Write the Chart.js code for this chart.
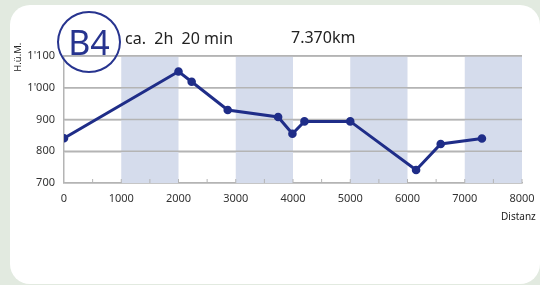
<!DOCTYPE html>
<html>
<head>
<meta charset="utf-8">
<script src="https://cdn.jsdelivr.net/npm/chart.js@4"></script>
<style>
  body { margin: 0; width: 540px; height: 285px; overflow: hidden; background: #e2eae0; font-family: "Noto Sans", sans-serif; }
  .card { position: absolute; left: 10px; top: 5px; width: 530px; height: 279px; background: #fff; border-radius: 20px; }
  #chart { position: absolute; left: 0; top: 0; }
  .lbl { position: absolute; white-space: pre; color: #222; line-height: 1; }
  .badge { position: absolute; left: 57px; top: 11px; width: 64px; height: 62px; box-sizing: border-box;
           border: 2px solid #27348f; border-radius: 50%; color: #27348f; font-size: 34px; line-height: 58px; text-align: center; }
</style>
</head>
<body>
<div class="card"></div>
<canvas id="chart" width="540" height="285"></canvas>
<div class="badge">B4</div>
<div class="lbl" style="left:125px; top:30px; font-size:16px;">ca.  2h  20 min</div>
<div class="lbl" style="left:291px; top:29px; font-size:16px;">7.370km</div>
<div class="lbl" style="left:4px; top:53px; font-size:9.5px; width:28px; text-align:center; transform: rotate(-90deg);">H.ü.M.</div>
<div class="lbl" style="left:501px; top:211px; font-size:10px;">Distanz</div>
<script>
// Höhenprofil B4
const distanz = [0, 2000, 2230, 2860, 3740, 3990, 4200, 5000, 6150, 6580, 7300];
const hoehe   = [841, 1051, 1019, 930, 908, 855, 894, 894, 741, 823, 840];
const baender = [[1000, 2000], [3000, 4000], [5000, 6000], [7000, 8000]];
const xTicks = [0, 1000, 2000, 3000, 4000, 5000, 6000, 7000, 8000];
const xTickLabels = ['0', '1000', '2000', '3000', '4000', '5000', '6000', '7000', '8000'];
const yTicks = [700, 800, 900, 1000, 1100];
const yTickLabels = ['700', '800', '900', "1'000", "1'100"];

const navy = '#1f2d88';
const grau = '#b4b4b4';

// blaue Streifen und kleine Striche an der x-Achse
const hintergrund = {
  id: 'hintergrund',
  beforeDatasetsDraw(chart) {
    const { ctx, chartArea, scales } = chart;
    ctx.save();
    ctx.fillStyle = '#d5dcec';
    baender.forEach(b => {
      const x1 = scales.x.getPixelForValue(b[0]);
      const x2 = scales.x.getPixelForValue(b[1]);
      ctx.fillRect(x1, chartArea.top, x2 - x1, chartArea.bottom - chartArea.top);
    });
    // Gitterlinien nochmal drüber
    ctx.strokeStyle = grau;
    ctx.lineWidth = 1.5;
    yTicks.slice(1).forEach(v => {
      const y = scales.y.getPixelForValue(v);
      ctx.beginPath();
      ctx.moveTo(chartArea.left, y);
      ctx.lineTo(chartArea.right, y);
      ctx.stroke();
    });
    ctx.lineWidth = 1;
    for (let v = 500; v <= 8000; v += 500) {
      const x = scales.x.getPixelForValue(v);
      ctx.beginPath();
      ctx.moveTo(x, chartArea.bottom);
      ctx.lineTo(x, chartArea.bottom - 4);
      ctx.stroke();
    }
    ctx.restore();
  }
};

new Chart(document.getElementById('chart'), {
  type: 'line',
  data: {
    datasets: [{
      data: distanz.map((d, i) => ({ x: d, y: hoehe[i] })),
      borderColor: navy,
      backgroundColor: navy,
      borderWidth: 3,
      pointRadius: 2.8,
      pointBackgroundColor: navy,
      tension: 0
    }]
  },
  options: {
    responsive: false,
    animation: false,
    layout: { autoPadding: false, padding: { top: 56, right: 18, bottom: 0, left: 0 } },
    plugins: { legend: { display: false }, tooltip: { enabled: false } },
    scales: {
      x: {
        type: 'linear',
        min: 0, max: 8000,
        afterFit(s) { s.height = 102; s.paddingLeft = 0; s.paddingRight = 0; },
        grid: { display: false, drawTicks: false },
        border: { display: true, color: grau, width: 1.5 },
        ticks: {
          stepSize: 1000, padding: 9, color: '#333', font: { family: 'Noto Sans', size: 11 },
          callback: v => xTickLabels[xTicks.indexOf(v)]
        }
      },
      y: {
        min: 700, max: 1100,
        afterFit(s) { s.width = 64; s.paddingTop = 0; s.paddingBottom = 0; },
        grid: { color: grau, lineWidth: 1.5, drawTicks: false },
        border: { display: true, color: grau, width: 1.5 },
        ticks: {
          stepSize: 100, padding: 9, color: '#333', font: { family: 'Noto Sans', size: 11 },
          callback: v => yTickLabels[yTicks.indexOf(v)]
        }
      }
    }
  },
  plugins: [hintergrund]
});
</script>
</body>
</html>
